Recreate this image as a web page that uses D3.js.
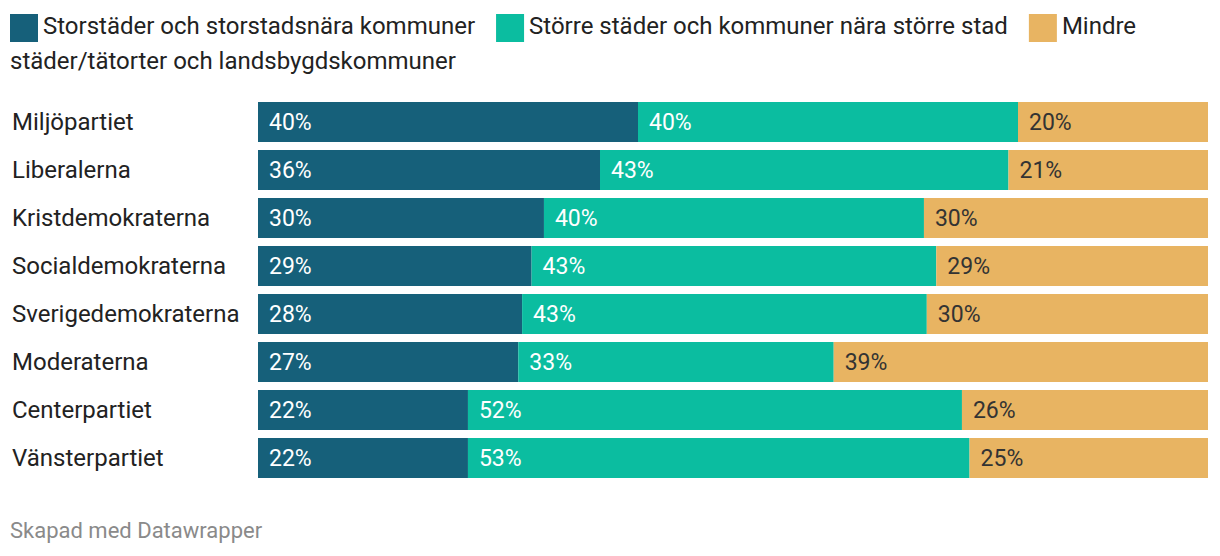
<!DOCTYPE html>
<html><head><meta charset="utf-8">
<script src="https://cdn.jsdelivr.net/npm/d3@7"></script>
<style>
html,body{margin:0;padding:0;background:#fff;}
svg{display:block;font-family:Roboto,"Noto Sans",sans-serif;}
</style></head>
<body>
<script>
const parties = ["Miljöpartiet","Liberalerna","Kristdemokraterna","Socialdemokraterna","Sverigedemokraterna","Moderaterna","Centerpartiet","Vänsterpartiet"];
const seriesNames = ["Storstäder och storstadsnära kommuner","Större städer och kommuner nära större stad","Mindre städer/tätorter och landsbygdskommuner"];
const storstad = [40.0, 36.0, 30.1, 28.8, 27.8, 27.4, 22.1, 22.1];
const storre   = [40.0, 43.0, 40.0, 42.6, 42.6, 33.2, 52.0, 52.8];
const mindre   = [20.0, 21.0, 29.9, 28.6, 29.6, 39.4, 25.9, 25.1];
const colors = ["#16607a", "#0bbda0", "#e8b462"];
const textColors = ["#ffffff", "#ffffff", "#333333"];
const footer = "Skapad med Datawrapper";

const W = 1220, H = 556;
const svg = d3.select("body").append("svg").attr("width", W).attr("height", H);

// Legend (flowing, wrapping like the original)
const legend = svg.append("g");
const LFS = 24;
let lx = 10, ly = 34;
const maxX = 1210;
seriesNames.forEach((name, i) => {
  legend.append("rect").attr("x", lx).attr("y", 14 + (ly - 34)).attr("width", 28).attr("height", 28).attr("fill", colors[i]);
  let tx = lx + 33;
  const words = name.split(" ");
  let t = legend.append("text").attr("x", tx).attr("y", ly).attr("font-size", LFS).attr("fill", "#222");
  let line = "";
  words.forEach(w => {
    const test = line ? line + " " + w : w;
    t.text(test);
    if (tx + t.node().getComputedTextLength() > maxX && line) {
      t.text(line);
      ly += 35; tx = 10;
      t = legend.append("text").attr("x", tx).attr("y", ly).attr("font-size", LFS).attr("fill", "#222").text(w);
      line = w;
    } else line = test;
  });
  lx = tx + t.node().getComputedTextLength() + 21;
});

const x = d3.scaleLinear().domain([0, 100]).range([258, 1208]);
const y = d3.scaleBand().domain(parties).range([98, 482]).paddingInner(1/6).paddingOuter(1/12);

const rows = parties.map((p, i) => ({party: p, vals: [storstad[i], storre[i], mindre[i]]}));

const g = svg.append("g");
rows.forEach(r => {
  let acc = 0;
  r.vals.forEach((v, k) => {
    g.append("rect").attr("x", x(acc)).attr("y", y(r.party))
      .attr("width", x(acc + v) - x(acc)).attr("height", y.bandwidth()).attr("fill", colors[k]);
    g.append("text").attr("x", x(acc) + 11).attr("y", y(r.party) + y.bandwidth()/2)
      .attr("dy", "0.34em").attr("font-size", 23).attr("fill", textColors[k])
      .text(Math.round(v) + "%");
    acc += v;
  });
  g.append("text").attr("x", 12).attr("y", y(r.party) + y.bandwidth()/2).attr("dy", "0.32em")
    .attr("font-size", 24).attr("fill", "#222").text(r.party);
});

svg.append("text").attr("x", 10).attr("y", 538).attr("font-size", 22).attr("fill", "#8a8a8a").text(footer);
</script>
</body></html>
